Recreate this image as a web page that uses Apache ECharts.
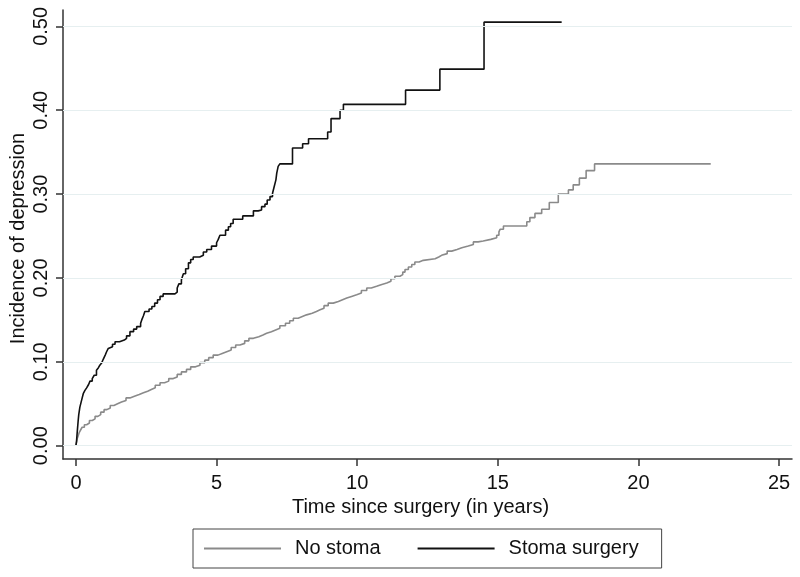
<!DOCTYPE html>
<html>
<head>
<meta charset="utf-8">
<script src="https://cdn.jsdelivr.net/npm/echarts@6/dist/echarts.min.js"></script>
<style>html,body{margin:0;padding:0;background:#fff}#c{width:800px;height:577px}</style>
</head>
<body>
<div id="c"></div>
<script>
// ---- data ----
var seriesNames = ['No stoma', 'Stoma surgery'];
var xTicks = [0, 5, 10, 15, 20, 25];
var yTicks = [0, 0.1, 0.2, 0.3, 0.4, 0.5];
var xTitle = 'Time since surgery (in years)';
var yTitle = 'Incidence of depression';

var noStomaTime = [0,0.02,0.05,0.08,0.12,0.17,0.22,0.30,0.38,0.48,0.58,0.68,0.78,0.88,1.00,1.10,1.22,1.35,1.48,1.62,1.78,1.92,2.08,2.25,2.40,2.55,2.68,2.82,2.99,3.15,3.30,3.46,3.60,3.75,3.93,4.08,4.25,4.41,4.58,4.72,4.88,5.05,5.20,5.36,5.52,5.68,5.83,6.00,6.15,6.31,6.50,6.65,6.78,6.95,7.10,7.25,7.45,7.60,7.73,7.90,8.05,8.20,8.40,8.55,8.68,8.82,8.97,9.15,9.33,9.48,9.63,9.80,9.98,10.15,10.34,10.50,10.69,10.85,11.05,11.20,11.34,11.52,11.62,11.70,11.82,11.94,12.05,12.20,12.35,12.77,12.90,13.00,13.20,13.36,13.55,13.72,13.95,14.13,14.30,14.48,14.75,14.96,15.04,15.08,15.20,16.03,16.14,16.32,16.56,16.83,17.15,17.51,17.68,17.90,18.14,18.44,22.57];
var noStomaValue = [0,0.004,0.009,0.012,0.016,0.019,0.022,0.025,0.027,0.030,0.032,0.035,0.037,0.040,0.043,0.045,0.048,0.050,0.052,0.054,0.057,0.059,0.061,0.063,0.065,0.067,0.069,0.072,0.075,0.077,0.080,0.082,0.085,0.088,0.091,0.094,0.096,0.099,0.102,0.105,0.108,0.110,0.112,0.114,0.117,0.120,0.122,0.125,0.128,0.130,0.132,0.134,0.136,0.138,0.140,0.143,0.146,0.149,0.152,0.154,0.156,0.158,0.160,0.162,0.164,0.167,0.170,0.172,0.174,0.176,0.178,0.180,0.182,0.185,0.188,0.190,0.192,0.194,0.196,0.199,0.202,0.204,0.207,0.210,0.213,0.216,0.219,0.221,0.223,0.225,0.227,0.229,0.232,0.234,0.236,0.238,0.240,0.243,0.244,0.246,0.248,0.251,0.255,0.258,0.262,0.267,0.272,0.277,0.282,0.290,0.300,0.305,0.311,0.319,0.328,0.336,0.336];

var stomaTime = [0,0.02,0.05,0.08,0.10,0.14,0.20,0.26,0.32,0.38,0.45,0.50,0.58,0.65,0.73,0.80,0.85,0.92,0.97,1.04,1.09,1.15,1.21,1.30,1.39,1.55,1.72,1.80,1.92,2.05,2.16,2.30,2.34,2.40,2.45,2.60,2.70,2.80,2.90,2.99,3.10,3.52,3.60,3.66,3.75,3.82,3.90,4.00,4.08,4.17,4.40,4.53,4.65,4.82,5.00,5.06,5.12,5.32,5.42,5.50,5.59,5.93,6.31,6.48,6.60,6.72,6.80,6.90,6.99,7.05,7.11,7.14,7.19,7.25,7.70,8.06,8.27,8.95,9.07,9.39,9.51,11.72,12.94,14.51,17.27];
var stomaValue = [0,0.005,0.018,0.030,0.037,0.046,0.054,0.062,0.066,0.069,0.073,0.077,0.080,0.084,0.090,0.093,0.096,0.099,0.103,0.108,0.112,0.116,0.118,0.121,0.124,0.126,0.128,0.131,0.136,0.139,0.142,0.146,0.150,0.155,0.160,0.163,0.166,0.170,0.174,0.178,0.181,0.183,0.188,0.193,0.198,0.205,0.211,0.218,0.222,0.225,0.227,0.231,0.234,0.238,0.242,0.246,0.251,0.257,0.261,0.265,0.270,0.274,0.280,0.281,0.285,0.288,0.293,0.297,0.301,0.309,0.317,0.325,0.333,0.336,0.355,0.360,0.366,0.374,0.390,0.400,0.407,0.424,0.449,0.505,0.505];

function pairs(t, v) { return t.map(function (x, i) { return [x, v[i]]; }); }

var FONT = '"Liberation Sans", Arial, sans-serif';
var chart = echarts.init(document.getElementById('c'), null, { renderer: 'canvas' });
var axisLineStyle = { color: '#333333', width: 1.5 };

chart.setOption({
  animation: false,
  backgroundColor: '#ffffff',
  textStyle: { fontFamily: FONT },
  grid: { left: 63, right: 8, top: 10, bottom: 118, containLabel: false, outerBoundsMode: 'none' },
  legend: {
    data: seriesNames,
    left: 193, top: 529,
    orient: 'horizontal',
    icon: 'rect',
    itemWidth: 77, itemHeight: 2, itemGap: 37,
    padding: [9, 23, 9, 11],
    borderColor: '#444444', borderWidth: 1,
    textStyle: { fontFamily: FONT, fontSize: 20, color: '#111111', lineHeight: 21, padding: [0, 0, 0, 9] }
  },
  xAxis: {
    type: 'value', min: -0.46, max: 25.46,
    name: xTitle, nameLocation: 'middle', nameGap: 30,
    nameTextStyle: { fontFamily: FONT, fontSize: 20, color: '#111111', padding: [0, 14, 0, 0] },
    axisLine: { show: true, onZero: false, lineStyle: axisLineStyle },
    axisTick: { show: true, customValues: xTicks, length: 7, lineStyle: axisLineStyle },
    axisLabel: { customValues: xTicks, fontFamily: FONT, fontSize: 20, color: '#111111', margin: 14 },
    splitLine: { show: false }
  },
  yAxis: {
    type: 'value', min: -0.01586, max: 0.5195,
    name: yTitle, nameLocation: 'middle', nameGap: 35, nameRotate: 90, nameMoveOverlap: false,
    nameTextStyle: { fontFamily: FONT, fontSize: 20, color: '#111111', padding: [0, 8, 0, 0] },
    axisLine: { show: true, onZero: false, lineStyle: axisLineStyle },
    axisTick: { show: true, customValues: yTicks, length: 7, lineStyle: axisLineStyle },
    axisLabel: { customValues: yTicks, rotate: 90, fontFamily: FONT, fontSize: 20, color: '#111111', margin: 12,
      formatter: function (v) { return v.toFixed(2); } },
    splitLine: { show: false }
  },
  series: [
    {
      name: 'grid', type: 'line', data: [], z: 1, silent: true,
      markLine: {
        silent: true, symbol: ['none', 'none'], label: { show: false },
        lineStyle: { type: 'solid', color: '#e6eff0', width: 1.2 },
        emphasis: { disabled: true },
        data: yTicks.map(function (v) { return { yAxis: v }; })
      }
    },
    {
      name: seriesNames[0], type: 'line', step: 'end', showSymbol: false, symbol: 'none', z: 3,
      data: pairs(noStomaTime, noStomaValue),
      lineStyle: { color: '#8a8a8a', width: 1.6 }, itemStyle: { color: '#8a8a8a' }
    },
    {
      name: seriesNames[1], type: 'line', step: 'end', showSymbol: false, symbol: 'none', z: 4,
      data: pairs(stomaTime, stomaValue),
      lineStyle: { color: '#111111', width: 1.6 }, itemStyle: { color: '#111111' }
    }
  ]
});
</script>
</body>
</html>
